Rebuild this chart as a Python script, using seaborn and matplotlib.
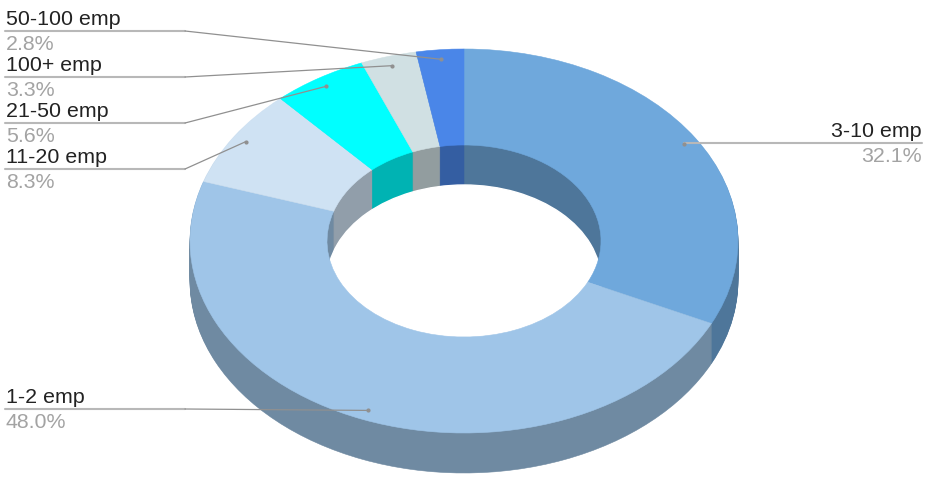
import numpy as np
import matplotlib
matplotlib.use("Agg")
import matplotlib.pyplot as plt
import seaborn as sns

# values, clockwise from 12 o'clock
labels = ["3-10 emp", "1-2 emp", "11-20 emp", "21-50 emp", "100+ emp", "50-100 emp"]
shares = [32.1, 48.0, 8.3, 5.6, 3.3, 2.8]
value_labels = ["32.1%", "48.0%", "8.3%", "5.6%", "3.3%", "2.8%"]
hex_colors = ["#6fa8dc", "#9fc5e8", "#cfe2f3", "#00ffff", "#d0e0e3", "#4a86e8"]

# layout of the picture in pixels
W, H = 927, 484
CX, CY = 464, 241
RX, RY = 274, 192
DEPTH = 40
HOLE = 0.5
# y of each leader line, same order as labels
label_y = [143, 409, 169, 123, 77, 31]

sns.set_theme(style="white")
plt.rcParams["font.family"] = ["Liberation Sans", "DejaVu Sans"]

top_colors = sns.color_palette(hex_colors)
side_colors = [tuple(c * 0.7 for c in col) for col in top_colors]


def to_x(px):
    return (px - CX) / RX


def to_y(py):
    return (CY - py) / RY


def draw_pie(colors, radius=1.0, offset=0.0, width=None):
    wedges, _ = ax.pie(shares, colors=colors, radius=radius, center=(0, offset),
                       startangle=90, counterclock=False,
                       wedgeprops=dict(width=width, linewidth=0.4))
    for w in wedges:
        w.set_edgecolor(w.get_facecolor())


fig = plt.figure(figsize=(W / 100, H / 100), dpi=100)
ax = fig.add_axes([0, 0, 1, 1])

# outer wall: deepest layer first
for d in range(DEPTH, 0, -1):
    draw_pie(side_colors, offset=-d / RY)

# inner wall: shallow layer first, then the white opening on top of it
for d in range(0, DEPTH + 1):
    draw_pie(side_colors, radius=HOLE, offset=-d / RY)
ax.pie([1], colors=["white"], radius=HOLE, center=(0, -DEPTH / RY))

# top face covers whatever of the hole stack falls outside the opening
draw_pie(top_colors, width=1 - HOLE)

# leader lines and labels
mids = (np.cumsum(shares) - np.array(shares) / 2) / np.sum(shares) * 2 * np.pi
for i, name in enumerate(labels):
    ax_x = 0.95 * np.sin(mids[i])
    ax_y = 0.95 * np.cos(mids[i])
    y = label_y[i]
    if i == 0:
        ax.plot([to_x(922), ax_x], [to_y(y), to_y(y)], color="#b8b8b8", lw=1.5, zorder=20)
        text_x, ha = 922, "right"
    else:
        ax.plot([to_x(5), to_x(185)], [to_y(y), to_y(y)], color="#b8b8b8", lw=1.5, zorder=20)
        ax.plot([to_x(185), ax_x], [to_y(y), ax_y], color="#909090", lw=0.9, zorder=20)
        text_x, ha = 6, "left"
    ax.plot(ax_x, ax_y, "o", color="#909090", ms=2, zorder=21)
    ax.text(to_x(text_x), to_y(y - 6), name, color="#222222", fontsize=15.4,
            ha=ha, va="baseline", zorder=22)
    ax.text(to_x(text_x), to_y(y + 19), value_labels[i], color="#a3a3a3", fontsize=15.4,
            ha=ha, va="baseline", zorder=22)

ax.set_aspect("auto")
ax.set_xlim(to_x(0), to_x(W))
ax.set_ylim(to_y(H), to_y(0))
ax.axis("off")

fig.savefig("out.png", dpi=100, facecolor="white")
